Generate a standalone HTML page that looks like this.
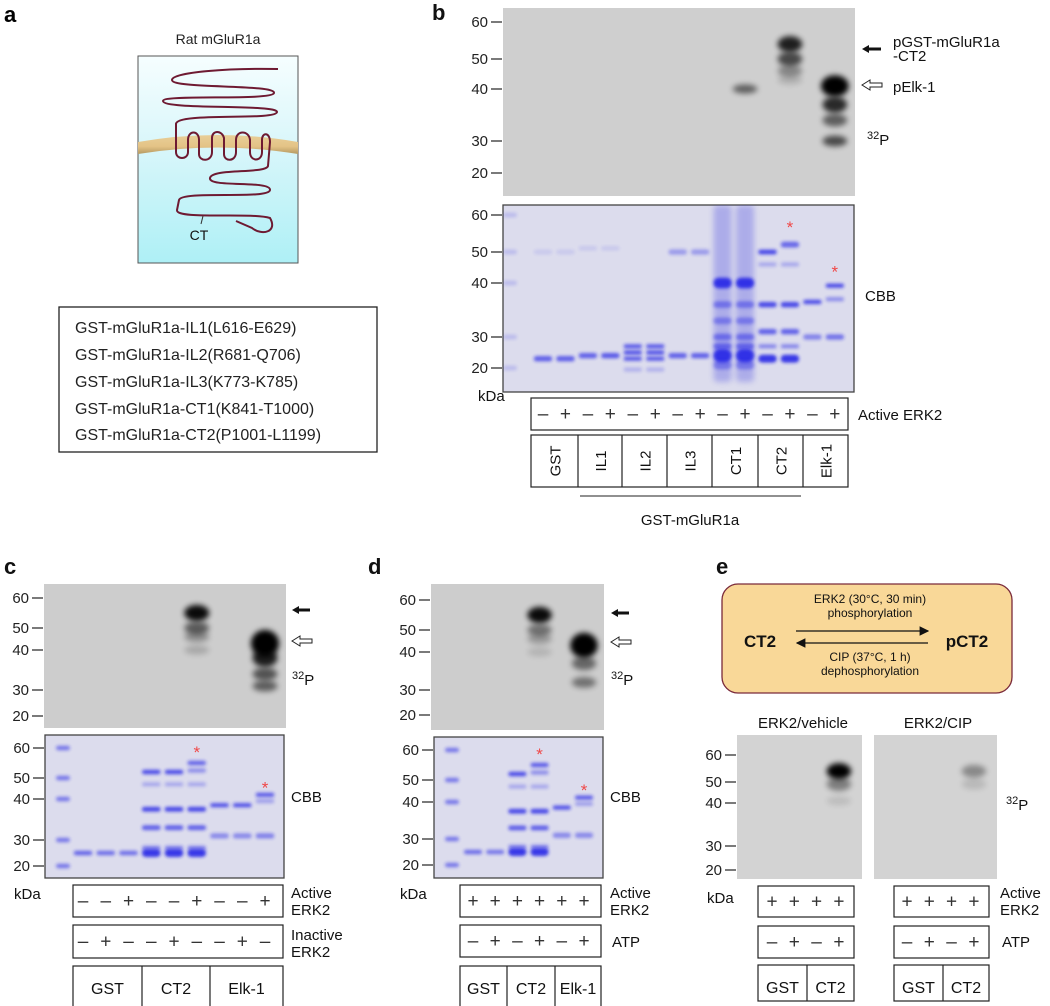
<!DOCTYPE html>
<html><head><meta charset="utf-8">
<style>
html,body{margin:0;padding:0;background:#fff;}
svg{display:block;font-family:"Liberation Sans",Arial,sans-serif;}
</style></head>
<body>
<svg id="fig" width="1050" height="1006" viewBox="0 0 1050 1006" xmlns="http://www.w3.org/2000/svg">
<defs>
<filter id="blurS" x="-50%" y="-100%" width="200%" height="300%"><feGaussianBlur stdDeviation="1.5"/></filter>
<filter id="blurM" x="-50%" y="-20%" width="200%" height="140%"><feGaussianBlur stdDeviation="3"/></filter>
<filter id="blurL" x="-50%" y="-100%" width="200%" height="300%"><feGaussianBlur stdDeviation="3"/></filter>
<linearGradient id="cellGrad" x1="0" y1="0" x2="0" y2="1"><stop offset="0" stop-color="#f6feff"/><stop offset="0.45" stop-color="#d8f6fa"/><stop offset="1" stop-color="#aef0f6"/></linearGradient>
<linearGradient id="memGrad" x1="0" y1="0" x2="0" y2="1"><stop offset="0" stop-color="#e8cf98"/><stop offset="0.6" stop-color="#e4c386"/><stop offset="1" stop-color="#b59a62"/></linearGradient>
<marker id="ah" markerWidth="8" markerHeight="8" refX="7" refY="4" orient="auto"><path d="M0,0 L8,4 L0,8 z" fill="#111"/></marker>
</defs>

<!-- Panel a -->
<g>
<text x="4" y="22" font-size="22" font-weight="bold">a</text>
<text x="218" y="44" font-size="14" text-anchor="middle" fill="#222">Rat mGluR1a</text>
<rect x="138" y="56" width="160" height="207" fill="url(#cellGrad)" stroke="#555" stroke-width="1"/>
<path d="M138,142 Q218,128 298,142 L298,154 Q218,141 138,154 Z" fill="url(#memGrad)"/>
<path d="M278,69 C230,68 172,72 172,80 C172,89 276,84 274,93 C272,101 163,94 163,101 C163,110 278,104 277,112 C276,121 176,112 176,124 L176,152 C176,160 188,160 188,152 L188,140 C188,130 199,130 199,140 L199,154 C199,162 212,162 212,152 L212,138 C212,130 222,130 224,138 L224,154 C224,162 236,162 236,152 L236,140 C236,130 249,130 250,140 L250,152 C250,162 262,162 262,152 L262,140 C262,132 270,132 270,142 L268,166 C266,174 212,168 210,178 C208,188 271,180 270,190 C269,200 182,190 179,200 L177,210 C176,220 250,212 270,218 C278,232 262,236 252,228 L236,221" fill="none" stroke="#6e1a32" stroke-width="2"/>
<line x1="203" y1="216" x2="201" y2="224" stroke="#333" stroke-width="1"/>
<text x="199" y="240" font-size="14" text-anchor="middle" fill="#111">CT</text>
<rect x="59" y="307" width="318" height="145" fill="#fff" stroke="#222" stroke-width="1.3"/>
<g font-size="16" fill="#222">
<text x="75" y="333">GST-mGluR1a-IL1(L616-E629)</text>
<text x="75" y="360">GST-mGluR1a-IL2(R681-Q706)</text>
<text x="75" y="387">GST-mGluR1a-IL3(K773-K785)</text>
<text x="75" y="414">GST-mGluR1a-CT1(K841-T1000)</text>
<text x="75" y="440">GST-mGluR1a-CT2(P1001-L1199)</text>
</g>
</g>

<!-- static labels -->
<g font-size="15" fill="#111">
<text x="432" y="20" font-size="22" font-weight="bold">b</text>
<text x="4" y="574" font-size="22" font-weight="bold">c</text>
<text x="368" y="574" font-size="22" font-weight="bold">d</text>
<text x="716" y="574" font-size="22" font-weight="bold">e</text>

<text x="893" y="47">pGST-mGluR1a</text>
<text x="893" y="61">-CT2</text>
<text x="893" y="92">pElk-1</text>
<text x="867" y="145"><tspan font-size="11" dy="-6">32</tspan><tspan dy="6">P</tspan></text>
<text x="865" y="301">CBB</text>
<text x="478" y="401">kDa</text>
<text x="858" y="420">Active ERK2</text>
<line x1="580" y1="496" x2="801" y2="496" stroke="#222" stroke-width="1"/>
<text x="690" y="525" text-anchor="middle">GST-mGluR1a</text>

<text x="292" y="685"><tspan font-size="11" dy="-6">32</tspan><tspan dy="6">P</tspan></text>
<text x="291" y="802">CBB</text>
<text x="14" y="899">kDa</text>
<text x="291" y="898">Active</text>
<text x="291" y="915">ERK2</text>
<text x="291" y="940">Inactive</text>
<text x="291" y="957">ERK2</text>

<text x="611" y="685"><tspan font-size="11" dy="-6">32</tspan><tspan dy="6">P</tspan></text>
<text x="610" y="802">CBB</text>
<text x="400" y="899">kDa</text>
<text x="610" y="898">Active</text>
<text x="610" y="915">ERK2</text>
<text x="612" y="947">ATP</text>

<text x="1006" y="810"><tspan font-size="11" dy="-6">32</tspan><tspan dy="6">P</tspan></text>
<text x="707" y="903">kDa</text>
<text x="1000" y="898">Active</text>
<text x="1000" y="915">ERK2</text>
<text x="1002" y="947">ATP</text>
<text x="803" y="728" text-anchor="middle">ERK2/vehicle</text>
<text x="938" y="728" text-anchor="middle">ERK2/CIP</text>
</g>

<!-- Panel e scheme -->
<g>
<rect x="722" y="584" width="290" height="109" rx="16" fill="#f9d898" stroke="#7a2a3a" stroke-width="1.3"/>
<text x="870" y="603" font-size="12" text-anchor="middle" fill="#111">ERK2 (30°C, 30 min)</text>
<text x="870" y="617" font-size="12" text-anchor="middle" fill="#111">phosphorylation</text>
<text x="760" y="647" font-size="17" font-weight="bold" text-anchor="middle" fill="#111">CT2</text>
<text x="967" y="647" font-size="17" font-weight="bold" text-anchor="middle" fill="#111">pCT2</text>
<line x1="796" y1="631" x2="928" y2="631" stroke="#111" stroke-width="1.2" marker-end="url(#ah)"/>
<line x1="928" y1="643" x2="797" y2="643" stroke="#111" stroke-width="1.2" marker-end="url(#ah)"/>
<text x="870" y="661" font-size="12" text-anchor="middle" fill="#111">CIP (37°C, 1 h)</text>
<text x="870" y="675" font-size="12" text-anchor="middle" fill="#111">dephosphorylation</text>
</g>

<!-- arrows -->
<g>
<path d="M862,49 L869,45 L869,47.5 L881,47.5 L881,50.5 L869,50.5 L869,53 Z" fill="#111"/>
<path d="M862,85 L870,80 L870,83 L882,83 L882,87 L870,87 L870,90 Z" fill="#fff" stroke="#222" stroke-width="1"/>
<path d="M292,610 L299,606 L299,608.5 L310,608.5 L310,611.5 L299,611.5 L299,614 Z" fill="#111"/>
<path d="M292,641 L300,636 L300,639 L312,639 L312,643 L300,643 L300,646 Z" fill="#fff" stroke="#222" stroke-width="1"/>
<path d="M611,613 L618,609 L618,611.5 L629,611.5 L629,614.5 L618,614.5 L618,617 Z" fill="#111"/>
<path d="M611,642 L619,637 L619,640 L631,640 L631,644 L619,644 L619,647 Z" fill="#fff" stroke="#222" stroke-width="1"/>
</g>

<g id="gels"></g>
</svg>

<script>
// ===== Data =====
const tickKDa = [60, 50, 40, 30, 20];
const tickLabels = ['60', '50', '40', '30', '20'];

// band rows: [lane, kDa, intensity, thickness]  (lane -1 = marker)
const bandsB32 = [[9,40,0.55,1],[11,54,0.85,1.8],[11,50,0.65,1.6],[11,46,0.35,1.3],[11,43,0.15,1],[13,41,1,2.4],[13,37,0.8,1.8],[13,34,0.55,1.4],[13,30,0.65,1.2]];
const bandsBCBB = [[-1,60,0.2,1],[-1,50,0.2,1],[-1,40,0.2,1],[-1,30,0.2,1],[-1,20,0.2,1],
 [0,23,0.75,1.2],[1,23,0.75,1.2],[0,50,0.12,1],[1,50,0.12,1],
 [2,24,0.75,1.2],[3,24,0.8,1.2],[2,51,0.12,1],[3,51,0.12,1],
 [4,27,0.75,1],[4,25,0.8,1],[4,23,0.75,1],[4,19.5,0.25,1],[5,27,0.75,1],[5,25,0.8,1],[5,23,0.75,1],[5,19.5,0.25,1],
 [6,24,0.75,1.2],[7,24,0.75,1.2],[6,50,0.4,1.2],[7,50,0.4,1.2],
 [8,40,1,2.4],[8,36,0.5,1.5],[8,33,0.45,1.5],[8,30,0.55,1.5],[8,27,0.6,1.5],[8,24,1,3],[8,21,0.45,2],
 [9,40,1,2.4],[9,36,0.5,1.5],[9,33,0.45,1.5],[9,30,0.55,1.5],[9,27,0.6,1.5],[9,24,1,3],[9,21,0.45,2],
 [10,50,0.9,1.1],[10,46,0.3,1],[10,36,0.9,1.2],[10,31,0.75,1.2],[10,27,0.5,1],[10,23,1,1.8],
 [11,52,0.7,1.3],[11,46,0.3,1],[11,36,0.9,1.2],[11,31,0.75,1.2],[11,27,0.5,1],[11,23,1,1.8],
 [12,36.5,0.85,1],[12,30,0.55,1.2],[13,39.5,0.85,1],[13,37,0.45,1],[13,30,0.65,1.2]];
// smeared lanes: [lane, intensity]
const smearB = [[8,0.3],[9,0.3]];
const starsB = [[11,57],[13,44]];
const activeB = ['-','+','-','+','-','+','-','+','-','+','-','+','-','+'];
const groupsB = ['GST','IL1','IL2','IL3','CT1','CT2','Elk-1'];

const bandsC32 = [[5,55,0.95,1.8],[5,50,0.55,1.4],[5,46,0.3,1.2],[5,40,0.18,1],[8,43,1,3],[8,38,0.85,2],[8,34,0.6,1.4],[8,31,0.55,1.2]];
const bandsCCBB = [[-1,60,0.6,1],[-1,50,0.6,1],[-1,40,0.6,1],[-1,30,0.6,1],[-1,20,0.6,1],
 [0,25,0.7,1],[1,25,0.65,1],[2,25,0.65,1],
 [3,52,0.85,1],[3,47,0.3,1],[3,37.5,0.9,1.1],[3,33,0.75,1.1],[3,27,0.5,1],[3,25,1,1.8],
 [4,52,0.85,1],[4,47,0.3,1],[4,37.5,0.9,1.1],[4,33,0.75,1.1],[4,27,0.5,1],[4,25,1,1.8],
 [5,55,0.7,1],[5,52.5,0.45,1],[5,47,0.3,1],[5,37.5,0.9,1.1],[5,33,0.75,1.1],[5,27,0.5,1],[5,25,1,1.8],
 [6,38.5,0.8,1],[6,31,0.5,1.2],[7,38.5,0.8,1],[7,31,0.5,1.2],[8,42,0.75,1],[8,39.5,0.35,1],[8,31,0.55,1.2]];
const starsC = [[5,59],[8,46]];
const activeC = ['-','-','+','-','-','+','-','-','+'];
const inactiveC = ['-','+','-','-','+','-','-','+','-'];
const groupsC = ['GST','CT2','Elk-1'];

const bandsD32 = [[3,55,0.95,1.8],[3,50,0.45,1.3],[3,46,0.25,1.2],[3,40,0.12,1],[5,43,1,2.8],[5,37,0.5,1.5],[5,32,0.45,1.2]];
const bandsDCBB = [[-1,60,0.6,1],[-1,50,0.6,1],[-1,40,0.6,1],[-1,30,0.6,1],[-1,20,0.6,1],
 [0,25,0.65,1],[1,25,0.6,1],
 [2,52,0.85,1],[2,47,0.3,1],[2,37.5,0.9,1.1],[2,33,0.75,1.1],[2,27,0.5,1],[2,25,1,1.8],
 [3,55,0.75,1],[3,52.5,0.45,1],[3,47,0.3,1],[3,37.5,0.9,1.1],[3,33,0.75,1.1],[3,27,0.5,1],[3,25,1,1.8],
 [4,38.5,0.8,1],[4,31,0.5,1.2],[5,42,0.75,1],[5,39.5,0.35,1],[5,31,0.5,1.2]];
const starsD = [[3,59],[5,46]];
const activeD = ['+','+','+','+','+','+'];
const atpD = ['-','+','-','+','-','+'];
const groupsD = ['GST','CT2','Elk-1'];

const bandsEVeh = [[3,54,1,1.8],[3,49,0.4,1.5],[3,41,0.1,1]];
const bandsECip = [[3,54,0.35,1.4],[3,49,0.12,1.2]];
const activeE = ['+','+','+','+'];
const atpE = ['-','+','-','+'];
const groupsE = ['GST','CT2'];

// ===== Drawing =====
const NS = 'http://www.w3.org/2000/svg';
const root = document.getElementById('gels');
function mk(tag, attrs, parent) {
  const el = document.createElementNS(NS, tag);
  for (const k in attrs) el.setAttribute(k, attrs[k]);
  (parent || root).appendChild(el);
  return el;
}
function makeY(tickY) {
  return function (k) {
    for (let i = 0; i < tickKDa.length - 1; i++) {
      const a = tickKDa[i], b = tickKDa[i + 1];
      if ((k <= a && k >= b) || (i === 0 && k > a) || (i === tickKDa.length - 2 && k < b)) {
        return tickY[i] + (a - k) / (a - b) * (tickY[i + 1] - tickY[i]);
      }
    }
    return tickY[0];
  };
}
function makeX(x0, step, markerX) {
  return function (lane) { return lane < 0 ? markerX : x0 + lane * step; };
}

function drawAxis(g, tickY, gx, name) {
  tickKDa.forEach(function (k, i) {
    const ln = mk('line', {x1: gx - 12, x2: gx - 1, y1: tickY[i], y2: tickY[i], stroke: '#222', 'stroke-width': 1.2}, g);
    
    
    const t = mk('text', {x: gx - 15, y: tickY[i] + 5, 'font-size': 15, 'text-anchor': 'end', fill: '#222'}, g);
    t.textContent = tickLabels[i];
    
    
  });
}

function drawGel(opts) {
  const g = mk('g', {});
  
  
  const bg = mk('rect', {x: opts.x, y: opts.y, width: opts.w, height: opts.h, fill: opts.cbb ? '#dcdced' : opts.bg,
    stroke: opts.cbb ? '#444' : 'none', 'stroke-width': 1.3}, g);
  
  
  const y = makeY(opts.tickY), x = makeX(opts.x0, opts.step, opts.markerX);
  const clip = 'c' + opts.name;
  const cp = mk('clipPath', {id: clip}, g);
  mk('rect', {x: opts.x, y: opts.y, width: opts.w, height: opts.h}, cp);
  const bandG = mk('g', {'clip-path': 'url(#' + clip + ')'}, g);
  (opts.smear || []).forEach(function (s) {
    const w = opts.step * 0.8;
    const r = mk('rect', {x: x(s[0]) - w / 2, y: opts.y, width: w, height: opts.h - 10, rx: 4,
      fill: '#4040e0', opacity: s[1], filter: 'url(#blurM)'}, bandG);
    
    
  });
  opts.bands.forEach(function (b) {
    let e;
    if (opts.cbb) {
      const w = b[0] < 0 ? 14 : opts.step * 0.82;
      const h = 4.4 * b[3];
      e = mk('rect', {x: x(b[0]) - w / 2, y: y(b[1]) - h / 2, width: w, height: h, rx: h / 2,
        fill: '#1a1ae6', opacity: Math.min(1, b[2] * 0.85), filter: 'url(#blurS)'}, bandG);
    } else {
      const big = b[3] > 2;
      e = mk('ellipse', {cx: x(b[0]), cy: y(b[1]), rx: opts.step * (big ? 0.62 : 0.55), ry: 4.5 * b[3],
        fill: '#000', opacity: b[2], filter: 'url(#blurL)'}, bandG);
    }
    
    
  });
  (opts.stars || []).forEach(function (s) {
    const t = mk('text', {x: x(s[0]), y: y(s[1]) + 7, 'font-size': 17, 'text-anchor': 'middle', fill: '#f04848'}, g);
    t.textContent = '*';
    
    
  });
  if (opts.axis) drawAxis(g, opts.tickY, opts.x, opts.name);
  return x;
}

function drawSigns(name, signs, bx, by, bw, bh, xf) {
  const r = mk('rect', {x: bx, y: by, width: bw, height: bh, fill: '#fff', stroke: '#222', 'stroke-width': 1.2});
  
  
  signs.forEach(function (s, i) {
    const t = mk('text', {x: xf(i), y: by + bh / 2 + 6, 'font-size': 19, 'text-anchor': 'middle', fill: '#333'});
    t.textContent = s === '+' ? '+' : '–';
    
    
  });
}

function drawGroups(name, groups, bx, by, bw, bh, dividers, rotate) {
  const r = mk('rect', {x: bx, y: by, width: bw, height: bh, fill: '#fff', stroke: '#222', 'stroke-width': 1.2});
  
  
  const edges = [bx].concat(dividers).concat([bx + bw]);
  dividers.forEach(function (d) {
    const l = mk('line', {x1: d, x2: d, y1: by, y2: by + bh, stroke: '#222', 'stroke-width': 1.2});
    
    
  });
  groups.forEach(function (gname, i) {
    const cx = (edges[i] + edges[i + 1]) / 2, cy = by + bh / 2;
    const t = mk('text', rotate ?
      {x: cx + 6, y: cy, 'font-size': 15, 'text-anchor': 'middle', fill: '#111', transform: 'rotate(-90 ' + (cx + 6) + ' ' + cy + ')'} :
      {x: cx, y: by + 28, 'font-size': 16, 'text-anchor': 'middle', fill: '#111'});
    t.textContent = gname;
    
    
  });
}

// Panel b
let xb = drawGel({name:'gel-b-32p', x:503, y:8, w:352, h:188, bg:'#cfcfcf', tickY:[22,59,89,141,173], x0:543, step:22.45, markerX:510, bands:bandsB32, axis:true});
drawGel({name:'gel-b-cbb', x:503, y:205, w:351, h:187, cbb:true, tickY:[215,252,283,337,368], x0:543, step:22.45, markerX:510, bands:bandsBCBB, smear:smearB, stars:starsB, axis:true});
drawSigns('active-erk2-b', activeB, 531, 398, 317, 32, xb);
drawGroups('construct-b', groupsB, 531, 435, 317, 52, [578,622,667,712,758,803], true);

// Panel c
let xc = drawGel({name:'gel-c-32p', x:44, y:584, w:242, h:144, bg:'#cdcdcd', tickY:[598,628,650,690,716], x0:83, step:22.75, markerX:63, bands:bandsC32, axis:true});
drawGel({name:'gel-c-cbb', x:45, y:735, w:239, h:143, cbb:true, tickY:[748,778,799,840,866], x0:83, step:22.75, markerX:63, bands:bandsCCBB, stars:starsC, axis:true});
drawSigns('active-erk2-c', activeC, 73, 885, 210, 32, xc);
drawSigns('inactive-erk2-c', inactiveC, 73, 925, 210, 33, xc);
drawGroups('construct-c', groupsC, 73, 966, 210, 45, [142, 210], false);

// Panel d
let xd = drawGel({name:'gel-d-32p', x:431, y:584, w:173, h:146, bg:'#cdcdcd', tickY:[600,630,652,690,715], x0:473, step:22.2, markerX:452, bands:bandsD32, axis:true});
drawGel({name:'gel-d-cbb', x:434, y:737, w:169, h:141, cbb:true, tickY:[750,780,802,839,865], x0:473, step:22.2, markerX:452, bands:bandsDCBB, stars:starsD, axis:true});
drawSigns('active-erk2-d', activeD, 460, 885, 141, 32, xd);
drawSigns('atp-d', atpD, 460, 925, 141, 32, xd);
drawGroups('construct-d', groupsD, 460, 966, 141, 45, [507, 555], false);

// Panel e
let xe1 = drawGel({name:'gel-e-vehicle', x:737, y:735, w:125, h:144, bg:'#d3d3d3', tickY:[755,782,803,846,870], x0:772, step:22.3, markerX:745, bands:bandsEVeh, axis:true});
let xe2 = drawGel({name:'gel-e-cip', x:874, y:735, w:123, h:144, bg:'#d3d3d3', tickY:[755,782,803,846,870], x0:907, step:22.3, markerX:880, bands:bandsECip, axis:false});
drawSigns('active-erk2-e-vehicle', activeE, 758, 886, 96, 31, xe1);
drawSigns('atp-e-vehicle', atpE, 758, 926, 96, 32, xe1);
drawGroups('construct-e-vehicle', groupsE, 758, 965, 96, 36, [807], false);
drawSigns('active-erk2-e-cip', activeE, 894, 886, 95, 31, xe2);
drawSigns('atp-e-cip', atpE, 894, 926, 95, 32, xe2);
drawGroups('construct-e-cip', groupsE, 894, 965, 95, 36, [943], false);
</script>
</body></html>
